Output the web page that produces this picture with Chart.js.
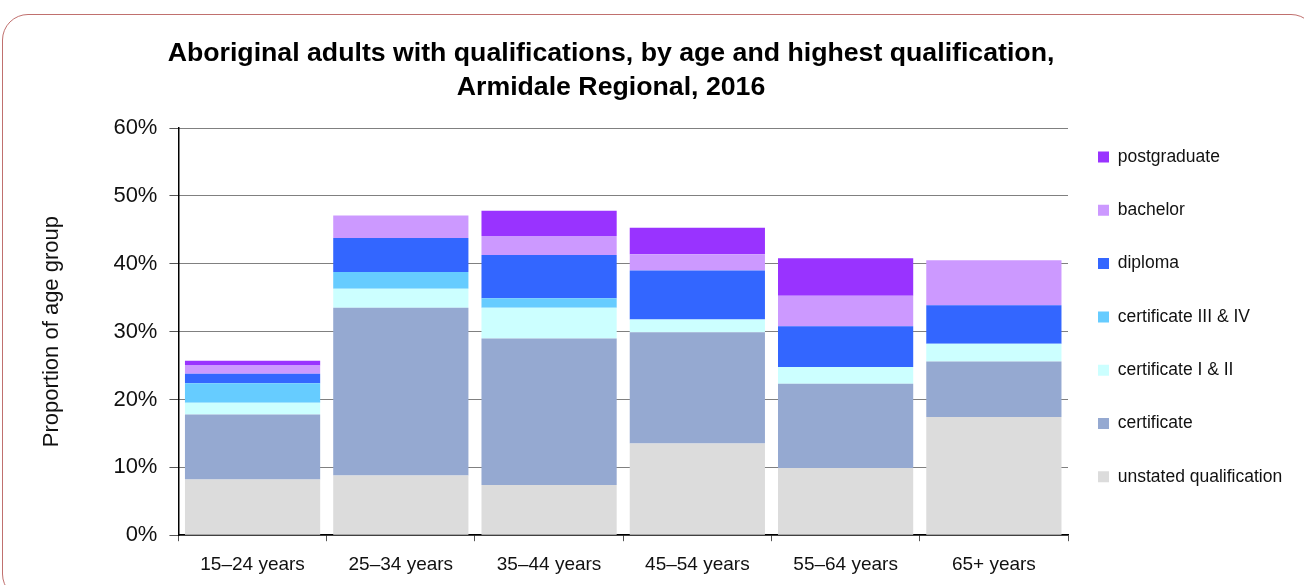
<!DOCTYPE html>
<html>
<head>
<meta charset="utf-8">
<script src="https://cdn.jsdelivr.net/npm/chart.js@4/dist/chart.umd.min.js"></script>
<style>
  html, body { margin: 0; padding: 0; background: #fff; }
  #wrap { position: relative; width: 1304px; height: 585px; overflow: hidden; }
  #frame {
    position: absolute; left: 2px; top: 14px; width: 1313px; height: 584px;
    border: 1.5px solid #c0706e; border-radius: 26px; pointer-events: none;
  }
  canvas { display: block; }
</style>
</head>
<body>
<div id="wrap">
  <canvas id="chart" width="1304" height="585"></canvas>
  <div id="frame"></div>
</div>
<script>
// Age groups and the share of each group (%) by highest qualification
const ageGroups = ['15–24 years', '25–34 years', '35–44 years', '45–54 years', '55–64 years', '65+ years'];
const unstated     = [8.2, 8.8, 7.4, 13.5, 9.9, 17.4];
const certificate  = [9.6, 24.7, 21.6, 16.4, 12.4, 8.2];
const certI_II     = [1.7, 2.8, 4.5, 1.9, 2.5, 2.6];
const certIII_IV   = [2.9, 2.5, 1.4, 0.0, 0.0, 0.0];
const diploma      = [1.4, 5.0, 6.4, 7.2, 6.0, 5.7];
const bachelor     = [1.2, 3.3, 2.8, 2.4, 4.5, 6.6];
const postgraduate = [0.7, 0.0, 3.7, 3.9, 5.5, 0.0];
const yTicks = [0, 10, 20, 30, 40, 50, 60];

const SANS = "'Liberation Sans', Arial, sans-serif";

// Use the condensed face for the legend when it is installed
function hasFont(name) {
  const c = document.createElement('canvas').getContext('2d');
  const s = 'abcdefghijklmnopqrstuvwxyz 0123456789';
  c.font = '40px monospace';
  const a = c.measureText(s).width;
  c.font = '40px "' + name + '", monospace';
  return c.measureText(s).width !== a;
}
const narrow = hasFont('Liberation Sans Narrow');
const legendFont = narrow
  ? { family: "'Liberation Sans Narrow', " + SANS, size: 21 }
  : { family: SANS, size: 17.5 };

const ROW_STEP = 53.3;
const LEGEND_PAD = ROW_STEP - legendFont.size;
const BOX = 11;
const PLOT_RIGHT = 1068;
const LEGEND_X = 1098;

// Size the right padding so the legend starts where the plot ends
const mctx = document.createElement('canvas').getContext('2d');
mctx.font = legendFont.size + 'px ' + legendFont.family;
const longest = Math.max(...['postgraduate', 'bachelor', 'diploma', 'certificate III & IV',
  'certificate I & II', 'certificate', 'unstated qualification'].map(t => mctx.measureText(t).width));
const legendWidth = LEGEND_PAD + BOX + legendFont.size / 2 + longest + 10;
const padRight = Math.max(0, 1304 - PLOT_RIGHT - legendWidth);

const series = [
  { label: 'unstated qualification', data: unstated,     color: '#dcdcdc' },
  { label: 'certificate',            data: certificate,  color: '#95a9d1' },
  { label: 'certificate I & II',     data: certI_II,     color: '#ccffff' },
  { label: 'certificate III & IV',   data: certIII_IV,   color: '#66ccff' },
  { label: 'diploma',                data: diploma,      color: '#3366ff' },
  { label: 'bachelor',               data: bachelor,     color: '#cc99ff' },
  { label: 'postgraduate',           data: postgraduate, color: '#9933ff' }
];

// Re-centre the title over the plot and place the legend column
const placeBlocks = {
  id: 'placeBlocks',
  afterLayout(chart) {
    const t = chart.titleBlock;
    if (t) {
      const w = t.right - t.left;
      t.left = 611 - w / 2;
      t.right = 611 + w / 2;
    }
    const lg = chart.legend;
    if (lg) {
      const firstCentre = lg.top + LEGEND_PAD + legendFont.size / 2;
      const lift = firstCentre - 157;
      lg.top -= lift;
      lg.bottom -= lift;
      const dx = LEGEND_X - (lg.left + LEGEND_PAD);
      lg.left += dx;
      lg.right += dx;
    }
  }
};

new Chart(document.getElementById('chart'), {
  type: 'bar',
  data: {
    labels: ageGroups,
    datasets: series.map(s => ({
      label: s.label,
      data: s.data,
      backgroundColor: s.color,
      borderWidth: 0,
      stack: 'all',
      categoryPercentage: 1.0,
      barPercentage: 0.912
    }))
  },
  plugins: [placeBlocks],
  options: {
    responsive: false,
    animation: false,
    layout: { padding: { left: 10, right: padRight, top: 0, bottom: -3 } },
    plugins: {
      title: {
        display: true,
        text: ['Aboriginal adults with qualifications, by age and highest qualification,',
               'Armidale Regional, 2016'],
        color: '#000',
        font: { family: SANS, size: 26.7, weight: 'bold', lineHeight: 34 / 26.7 },
        padding: { top: 37, bottom: 23 }
      },
      legend: {
        position: 'right',
        align: 'start',
        reverse: true,
        maxWidth: 1304 - PLOT_RIGHT - padRight,
        labels: {
          boxWidth: BOX,
          boxHeight: BOX,
          padding: LEGEND_PAD,
          color: '#111',
          font: legendFont
        }
      },
      tooltip: { enabled: false }
    },
    scales: {
      x: {
        stacked: true,
        offset: true,
        grid: {
          display: true,
          drawOnChartArea: false,
          drawTicks: true,
          offset: true,
          tickLength: 6,
          tickColor: '#555',
          tickWidth: 1
        },
        border: { display: true, color: '#000', width: 1.5 },
        ticks: { color: '#111', font: { family: SANS, size: 19 }, padding: 12, maxRotation: 0 }
      },
      y: {
        stacked: true,
        min: yTicks[0],
        max: yTicks[yTicks.length - 1],
        afterBuildTicks(scale) { scale.ticks = yTicks.map(v => ({ value: v })); },
        grid: {
          color: '#000',
          lineWidth: 1,
          drawTicks: true,
          tickLength: 9,
          tickColor: '#555',
          tickWidth: 1,
          tickBorderDash: []
        },
        border: { display: true, color: '#000', width: 1.5, dash: [1, 1] },
        ticks: {
          color: '#111',
          font: { family: SANS, size: 22 },
          padding: 12,
          callback: v => v + '%'
        },
        title: {
          display: true,
          text: 'Proportion of age group',
          color: '#111',
          font: { family: SANS, size: 22 },
          padding: { top: 29, bottom: 36 }
        }
      }
    }
  }
});
</script>
</body>
</html>
